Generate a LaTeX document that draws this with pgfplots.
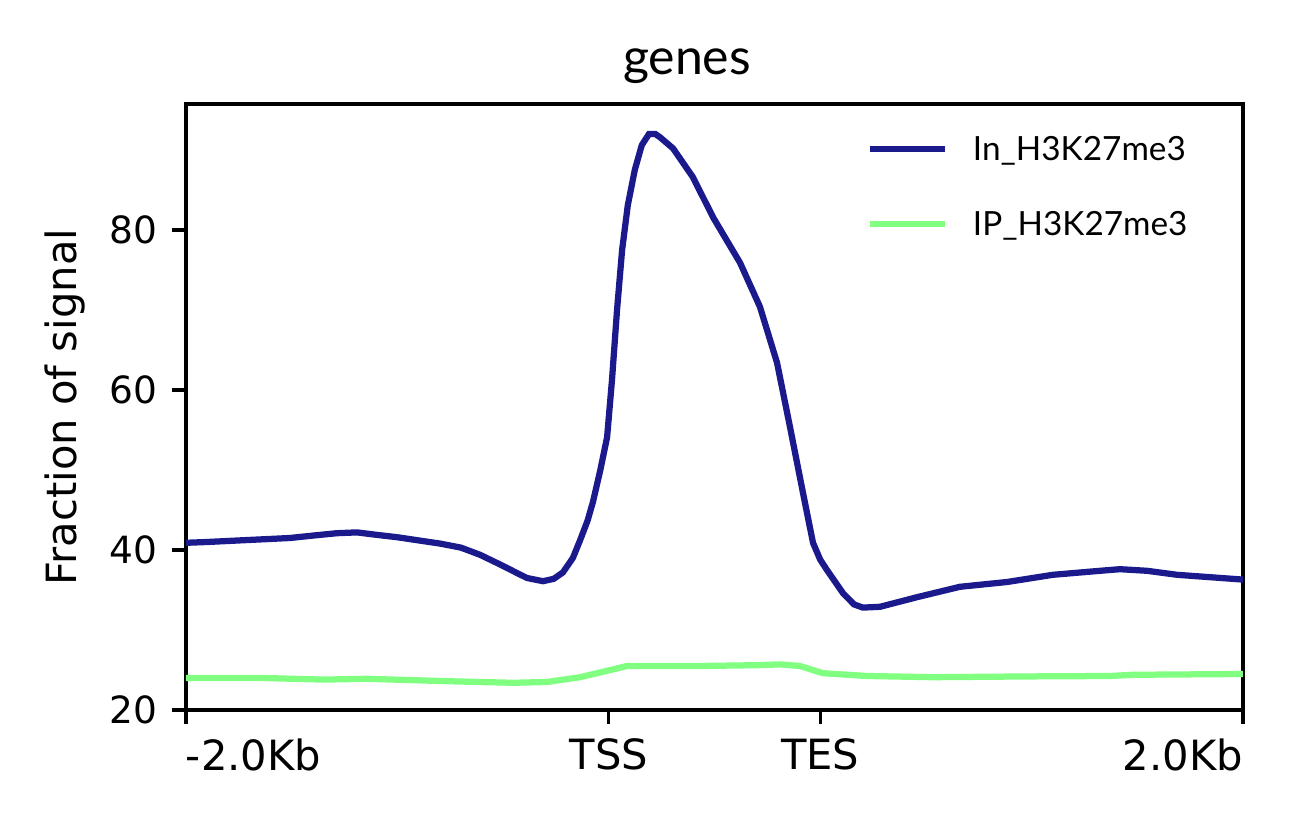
\documentclass[border=0pt]{standalone}
\usepackage{fontspec}
\setmainfont{DejaVu Sans}
\newfontfamily\titlefont{Lato}
\usepackage{pgfplots}
\pgfplotsset{compat=1.18}
\definecolor{cblue}{RGB}{26,26,140}
\definecolor{cgreen}{RGB}{128,255,128}
\begin{document}
\begin{tikzpicture}
\path[use as bounding box] (-44.64pt,-28.08pt) rectangle (267.12pt,170.4pt);
\begin{axis}[
  at={(0pt,0pt)}, anchor=south west,
  scale only axis, width=253.68pt, height=145.44pt,
  xmin=0, xmax=5000, ymin=20, ymax=95.75,
  xtick={0,2000,3000,5000},
  xticklabels={\makebox[0pt][l]{-2.0Kb},TSS,TES,\makebox[0pt][r]{2.0Kb}},
  ytick={20,40,60,80},
  tick align=outside, major tick length=3.4pt,
  tick style={line width=0.8pt, black},
  axis line style={line width=0.8pt},
  xtick pos=bottom, ytick pos=left,
  /pgf/number format/assume math mode=true,
  xticklabel style={font=\fontsize{10}{12}\selectfont},
  yticklabel style={font=\fontsize{9}{11}\selectfont},
  ylabel={Fraction of signal},
  ylabel style={font=\fontsize{10}{12}\selectfont, at={(axis description cs:-0.1144,0.5)}, anchor=center},
  title={genes},
  title style={font=\titlefont\fontsize{12}{14}\selectfont, at={(axis description cs:0.474,1)}, anchor=base, yshift=1pt},
  legend style={draw=none, fill=none, inner sep=0pt, outer sep=0pt, at={(axis description cs:0.644,0.859)}, anchor=west,
    font=\titlefont\fontsize{8}{10}\selectfont, row sep=10.7pt, column sep=6pt,
    nodes={inner sep=0pt, outer sep=0pt, text height=5.8pt, text depth=1.5pt}},
  legend cell align=left,
  legend image code/.code={\draw[#1] (0pt,0.75pt) -- (18pt,0.75pt);},
]
\addplot[cblue, line width=1.5pt] coordinates {
(0,40.9) (100,41.0) (255,41.2) (492,41.5) (600,41.8) (714,42.1) (809,42.2) (900,41.9) (998,41.6) (1100,41.2) (1202,40.8) (1300,40.3) (1391,39.4) (1485,38.2) (1560,37.2) (1613,36.5) (1689,36.1) (1740,36.4) (1783,37.2) (1830,39.0) (1864,41.2) (1900,43.7) (1925,46.0) (1960,50.0) (1992,54.1) (2015,61.2) (2039,70.0) (2063,77.5) (2090,83.1) (2123,87.5) (2156,90.6) (2190,92.0) (2220,92.0) (2242,91.6) (2304,90.2) (2398,86.6) (2493,81.6) (2621,75.9) (2715,70.4) (2796,63.4) (2857,55.4) (2919,47.1) (2966,40.9) (3000,38.8) (3032,37.5) (3108,34.6) (3160,33.2) (3202,32.8) (3283,32.9) (3458,34.1) (3661,35.4) (3884,36.0) (4101,36.9) (4324,37.4) (4418,37.6) (4546,37.4) (4688,36.9) (4844,36.6) (5000,36.3)
};
\addlegendentry{In\_H3K27me3}
\addplot[cgreen, line width=1.5pt] coordinates {
(0,24.0) (364,24.0) (648,23.8) (856,23.9) (1235,23.6) (1547,23.4) (1708,23.5) (1864,24.1) (1992,24.9) (2086,25.5) (2431,25.5) (2700,25.6) (2810,25.7) (2904,25.5) (3013,24.6) (3221,24.25) (3534,24.1) (4006,24.2) (4371,24.25) (4480,24.4) (5000,24.5)
};
\addlegendentry{IP\_H3K27me3}
\end{axis}
\end{tikzpicture}
\end{document}
